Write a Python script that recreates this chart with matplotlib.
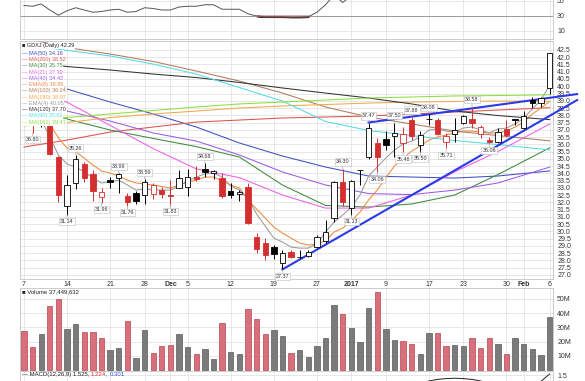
import matplotlib.pyplot as plt
import numpy as np

plt.rcParams['font.family'] = ['Liberation Sans', 'DejaVu Sans']

W, H = 585, 381

# GDXJ daily candles, 7 Nov 2016 .. 6 Feb 2017 (one entry per trading day)
prev_close = 38.20
opens = [38.30, 37.60, 37.80, 37.26, 35.14, 31.74, 33.31, 34.64, 33.93, 32.38,
         33.53, 33.65, 32.45, 32.62, 32.50, 32.55, 32.84, 32.47, 32.96, 33.03,
         33.76, 34.30, 34.00, 33.69, 32.78, 32.55, 33.07, 29.58, 29.21, 28.89,
         27.79, 28.59, 28.21, 28.30, 28.93, 29.35, 30.89, 33.42, 31.60, 34.22,
         35.14, 36.10, 36.33, 36.60, 36.10, 37.67, 35.95, 37.72, 37.67, 36.18,
         36.71, 37.49, 37.72, 36.69, 36.29, 36.18, 37.03, 37.67, 37.14, 39.05,
         38.82, 39.86]
highs = [38.60, 38.10, 39.00, 37.40, 35.20, 33.88, 35.26, 34.80, 34.22, 32.98,
         33.76, 33.99, 32.62, 32.78, 33.59, 33.31, 33.03, 33.53, 34.22, 34.27,
         34.50, 34.68, 34.25, 34.00, 33.31, 32.84, 33.31, 29.86, 29.51, 29.05,
         28.71, 28.71, 28.71, 28.71, 29.74, 30.78, 33.49, 34.30, 33.55, 34.25,
         37.47, 36.41, 36.90, 37.50, 37.20, 37.88, 36.90, 38.08, 37.80, 36.75,
         37.80, 38.00, 38.58, 37.33, 36.50, 37.10, 37.67, 37.70, 38.29, 39.28,
         39.28, 42.32]
lows = [37.60, 36.80, 37.20, 35.28, 32.04, 31.14, 32.89, 33.42, 32.09, 31.96,
        32.96, 32.66, 31.76, 31.87, 31.87, 32.20, 32.27, 31.83, 32.95, 32.45,
        33.50, 33.76, 33.60, 32.27, 32.27, 32.09, 30.50, 28.48, 28.02, 28.07,
        27.37, 28.14, 28.07, 28.20, 28.83, 29.17, 30.66, 31.74, 31.13, 33.19,
        35.00, 34.06, 35.60, 35.14, 35.46, 36.30, 35.50, 37.30, 36.64, 35.71,
        36.18, 37.40, 37.10, 36.41, 36.06, 36.10, 36.52, 37.33, 37.03, 38.52,
        38.60, 39.50]
closes = [37.70, 37.30, 37.50, 35.33, 32.50, 33.19, 34.96, 33.69, 32.78, 32.74,
          33.38, 33.93, 32.04, 32.09, 33.38, 33.19, 32.57, 32.45, 33.65, 33.76,
          33.58, 34.07, 34.15, 32.43, 32.50, 32.70, 30.55, 28.76, 28.36, 28.41,
          28.52, 28.20, 28.23, 28.60, 29.63, 29.97, 33.42, 32.04, 33.47, 34.20,
          37.10, 35.14, 35.95, 36.75, 36.70, 36.57, 36.64, 37.73, 36.71, 36.60,
          36.98, 37.95, 37.45, 37.17, 36.14, 36.87, 36.64, 37.66, 37.95, 38.87,
          39.17, 42.29]
volume_m = [27.7, 16.5, 25.2, 45.0, 49.9, 28.7, 32.4, 27.0, 27.0, 22.4,
            14.2, 15.8, 34.5, 8.4, 28.2, 11.9, 17.2, 17.5, 25.4, 16.5,
            11.4, 14.7, 7.7, 32.9, 12.8, 11.4, 42.7, 35.9, 25.4, 28.2,
            24.2, 11.9, 14.2, 9.1, 17.0, 22.4, 45.7, 39.4, 29.4, 20.0,
            43.4, 55.0, 28.7, 21.2, 20.5, 18.4, 11.4, 25.9, 25.9, 17.0,
            17.7, 17.0, 22.4, 15.4, 22.4, 18.4, 11.4, 22.4, 18.2, 15.1,
            10.7, 37.45]
volume_text = 'Volume 37,449,632'

# fast averages, read per day
ema8 = [38.60, 38.30, 38.10, 37.40, 36.43, 35.74, 35.47, 35.05, 34.57, 34.16,
        34.02, 33.81, 33.53, 33.33, 33.26, 33.19, 33.09, 32.98, 33.19, 33.40,
        33.53, 33.74, 33.74, 33.47, 33.19, 32.98, 32.16, 31.53, 30.91, 30.29,
        29.88, 29.53, 29.19, 29.05, 29.12, 29.33, 29.95, 30.22, 30.71, 31.33,
        32.16, 32.84, 33.70, 34.50, 35.05, 35.53, 35.88, 36.29, 36.50, 36.64,
        36.78, 36.91, 36.91, 36.84, 36.78, 36.78, 36.91, 37.19, 37.53, 38.09,
        38.50, 38.95]
ema4 = [38.30, 37.80, 37.70, 36.50, 35.26, 34.64, 34.43, 34.09, 33.67, 33.33,
        33.40, 33.53, 33.19, 32.84, 32.91, 32.84, 32.84, 32.84, 33.12, 33.47,
        33.74, 33.95, 34.02, 33.74, 33.12, 32.84, 32.29, 31.19, 30.36, 29.53,
        29.26, 28.91, 28.84, 28.84, 29.12, 29.95, 30.64, 31.12, 31.67, 32.50,
        33.81, 34.43, 35.05, 35.60, 36.02, 36.22, 36.50, 36.98, 37.05, 36.91,
        36.84, 37.12, 37.19, 36.98, 36.78, 37.05, 37.12, 37.40, 37.81, 38.43,
        39.05, 40.05]

# slow averages, read every 5 days
ma_days = [0, 5, 10, 15, 20, 25, 30, 35, 40, 45, 50, 55, 61]
ma50 = [40.71, 39.81, 38.91, 38.09, 37.19, 36.09, 35.19, 34.43, 33.81, 33.74, 33.67, 33.81, 34.16]
ma200 = [35.81, 36.29, 36.84, 37.19, 37.53, 37.67, 37.81, 37.88, 37.95, 38.09, 38.22, 38.36, 38.52]
ma30 = [38.71, 37.74, 36.98, 36.40, 35.84, 35.12, 33.19, 31.78, 31.67, 31.88, 32.50, 33.91, 35.75]
ma21 = [39.60, 38.90, 37.30, 35.70, 34.30, 33.70, 32.50, 31.60, 31.60, 32.50, 34.10, 35.50, 37.39]
ma40 = [39.05, 38.29, 37.60, 36.78, 36.22, 35.26, 34.09, 33.19, 32.60, 32.53, 32.84, 33.33, 34.42]
ma100 = [43.33, 42.67, 42.22, 41.71, 41.05, 40.36, 39.53, 38.57, 37.88, 37.40, 36.91, 36.60, 36.24]
ma180 = [37.26, 37.50, 37.84, 38.09, 38.29, 38.50, 38.64, 38.74, 38.84, 38.91, 38.95, 38.98, 38.97]
ma120 = [41.67, 41.36, 41.12, 40.84, 40.60, 40.26, 39.88, 39.53, 39.19, 38.78, 38.29, 37.98, 37.70]
ma90 = [42.91, 42.47, 42.09, 41.53, 40.84, 39.91, 38.98, 37.57, 36.95, 36.60, 36.26, 35.98, 35.61]
ma161 = [37.60, 37.84, 38.09, 38.33, 38.57, 38.78, 38.91, 39.05, 39.19, 39.26, 39.33, 39.36, 39.41]

# hand drawn trend lines
trend_low_days = [30, 64.2]
trend_low_vals = [27.37, 39.05]
trend_high_days = [40, 64.2]
trend_high_vals = [37.50, 39.46]

# swing labels: day and whether it marks the high or the low
ann_days = [1, 5, 6, 9, 11, 12, 14, 17, 21, 30, 37, 38, 40, 41, 43, 44, 45, 46, 47, 49, 52, 54]
ann_kinds = ['L', 'L', 'H', 'L', 'H', 'L', 'H', 'L', 'H', 'L', 'H', 'L', 'H', 'L', 'H', 'L',
             'H', 'L', 'H', 'L', 'H', 'L']

rsi = [44, 43, 46, 38, 31, 37, 41, 38, 35, 36,
       38, 39, 35, 36, 41, 40, 38, 38, 42, 43,
       43, 45, 45, 39, 39, 39, 33, 30, 29, 29,
       29, 28.5, 28.5, 29, 35, 45, 58, 48, 57, 60,
       68, 60, 62, 65, 64, 63, 64, 67, 62, 61,
       63, 65, 62, 60, 57, 61, 59, 63, 65, 68,
       69, 78]

macd_days = list(range(44, 62))
macd = [1.15, 1.22, 1.29, 1.35, 1.39, 1.41, 1.42, 1.41, 1.39, 1.35,
        1.29, 1.24, 1.20, 1.19, 1.21, 1.26, 1.34, 1.525]

tick_days = [0, 5, 10, 14, 17, 19, 24, 29, 34, 38, 42, 47, 51, 56, 58, 61]
tick_labels = ['7', '14', '21', '28', 'Dec', '5', '12', '19', '27', '2017', '9', '17', '23', '30', 'Feb', '6']
month_labels = ['Dec', '2017', 'Feb']

RED = '#d32f2f'
BLACK = '#000000'
GRID = '#e3e3e3'

fig = plt.figure(figsize=(W / 100, H / 100), dpi=100)


def panel(top, bottom):
    a = fig.add_axes([20 / W, 1 - bottom / H, 533 / W, (bottom - top) / H])
    a.set_xlim(-0.46, 61.4)
    a.set_xticks(tick_days)
    a.grid(True, color=GRID, lw=0.6)
    a.set_axisbelow(True)
    for s in a.spines.values():
        s.set_color('#c4c4c4')
        s.set_linewidth(0.6)
    a.yaxis.tick_right()
    a.tick_params(length=0, labelsize=5, pad=3, colors='#333333')
    a.tick_params(axis='x', labelbottom=False)
    return a


ax_rsi = panel(0, 39)
ax = panel(41, 279)
ax_vol = panel(288, 371)
ax_macd = panel(371, 381)

# --- RSI strip (top is cut off)
days = np.arange(len(closes))
rsi_a = np.array(rsi, dtype=float)
ax_rsi.set_ylim(-0.67, 51.33)
ax_rsi.set_yticks([10, 30, 50])
ax_rsi.axhline(30, color='#9a9a9a', lw=0.7)
ax_rsi.plot(days, rsi_a, color='#555555', lw=0.7)
ax_rsi.fill_between(days, rsi_a, 30, where=rsi_a <= 30, color='#7a1c1c', lw=1.2, edgecolor='#7a1c1c')
ax_rsi.spines['top'].set_visible(False)

# --- price panel
ax.set_ylim(26.71, 43.12)
ax.set_yticks(np.arange(27, 42.51, 0.5))
ax.set_yticklabels([f'{v:.1f}' for v in np.arange(27, 42.51, 0.5)])
ax.set_xticklabels(tick_labels)
ax.tick_params(axis='x', labelbottom=True, pad=1.5)
for lab in ax.get_xticklabels():
    if lab.get_text() in month_labels:
        lab.set_fontweight('bold')

slow = [('MA(50)', ma50, '#3f4fc0'), ('MA(200)', ma200, '#e0504a'),
        ('MA(30)', ma30, '#3c8a3c'), ('MA(21)', ma21, '#ec5fec'),
        ('MA(40)', ma40, '#9a5ce6'), ('EMA(8)', ema8, '#f0883a'),
        ('MA(100)', ma100, '#b07a5c'), ('MA(180)', ma180, '#f2a94a'),
        ('EMA(4)', ema4, '#9a9a9a'), ('MA(120)', ma120, '#333333'),
        ('MA(90)', ma90, '#55dbe6'), ('MA(161)', ma161, '#8de03a')]
for name, vals, col in slow:
    xs = days if len(vals) == len(days) else ma_days
    ax.plot(xs, vals, color=col, lw=0.75, zorder=2)

ax.plot(trend_low_days, trend_low_vals, color='#2b3be6', lw=1.5, zorder=3.5, clip_on=False)
ax.plot(trend_high_days, trend_high_vals, color='#2b3be6', lw=1.5, zorder=3.5, clip_on=False)

prev = [prev_close] + closes[:-1]
for d in days:
    o, h, l, c = opens[d], highs[d], lows[d], closes[d]
    col = BLACK if c >= prev[d] else RED
    fill = 'white' if c > o else col
    ax.vlines(d, l, h, color=col, lw=0.7, zorder=4)
    ax.bar(d, max(abs(c - o), 0.05), bottom=min(o, c), width=0.62,
           color=fill, edgecolor=col, lw=0.6, zorder=4.5)

for d, kind in zip(ann_days, ann_kinds):
    val = highs[d] if kind == 'H' else lows[d]
    dy = 5 if kind == 'H' else -5
    ax.annotate(f'{val:.2f}', xy=(d, val), xytext=(0, dy), textcoords='offset points',
                ha='center', va='center', fontsize=3.9, color='#333333', zorder=6,
                bbox=dict(boxstyle='square,pad=0.2', fc='white', ec='#bdbdbd', lw=0.4),
                arrowprops=dict(arrowstyle='-', color='#9a9a9a', lw=0.4, shrinkA=0, shrinkB=0))

# overlay legend at the top left
ax.text(2 / 533, (279 - 46) / 238, f'■ GDXJ (Daily) {closes[-1]:.2f}', transform=ax.transAxes,
        fontsize=4, color='#222222', va='center', ha='left', zorder=7,
        bbox=dict(boxstyle='square,pad=0.15', fc='white', ec='none'))
for k, (name, vals, col) in enumerate(slow):
    y_px = 53.3 + 6.27 * k
    ax.text(2 / 533, (279 - y_px) / 238, f'— {name} {vals[-1]:.2f}', transform=ax.transAxes,
            fontsize=4, color=col, va='center', ha='left', zorder=7,
            bbox=dict(boxstyle='square,pad=0.15', fc='white', ec='none'))

# --- volume
vol_col = ['#7b7b7b' if closes[d] >= prev[d] else '#d7707a' for d in days]
vol_edge = ['#5a5a5a' if closes[d] >= prev[d] else '#b8444e' for d in days]
ax_vol.bar(days, volume_m, width=0.62, color=vol_col, edgecolor=vol_edge, lw=0.5, zorder=3)
ax_vol.set_ylim(-0.5, 57.6)
ax_vol.set_yticks([10, 20, 30, 40, 50])
ax_vol.set_yticklabels(['10M', '20M', '30M', '40M', '50M'])
ax_vol.text(2 / 533, (371 - 292) / 83, '■ ' + volume_text, transform=ax_vol.transAxes,
            fontsize=4.3, color='#222222', va='center', ha='left', zorder=7,
            bbox=dict(boxstyle='square,pad=0.15', fc='white', ec='none'))

# --- MACD strip (mostly cut off)
ax_macd.set_ylim(1.35, 1.6)
ax_macd.set_yticks([1.5])
ax_macd.plot(macd_days, macd, color='#222222', lw=0.7)
ax_macd.spines['bottom'].set_visible(False)
t = ax_macd.text(2 / 533, 0.62, '— MACD(12,26,9) 1.525, ', transform=ax_macd.transAxes,
                 fontsize=4.3, color='#222222', va='center', ha='left')
t = ax_macd.annotate('1.224', xy=(1, 0), xycoords=t, va='bottom', ha='left', fontsize=4.3, color='#e03030')
t = ax_macd.annotate(', ', xy=(1, 0), xycoords=t, va='bottom', ha='left', fontsize=4.3, color='#222222')
ax_macd.annotate('0.301', xy=(1, 0), xycoords=t, va='bottom', ha='left', fontsize=4.3, color='#3050e0')

fig.savefig('out.png', dpi=100)
